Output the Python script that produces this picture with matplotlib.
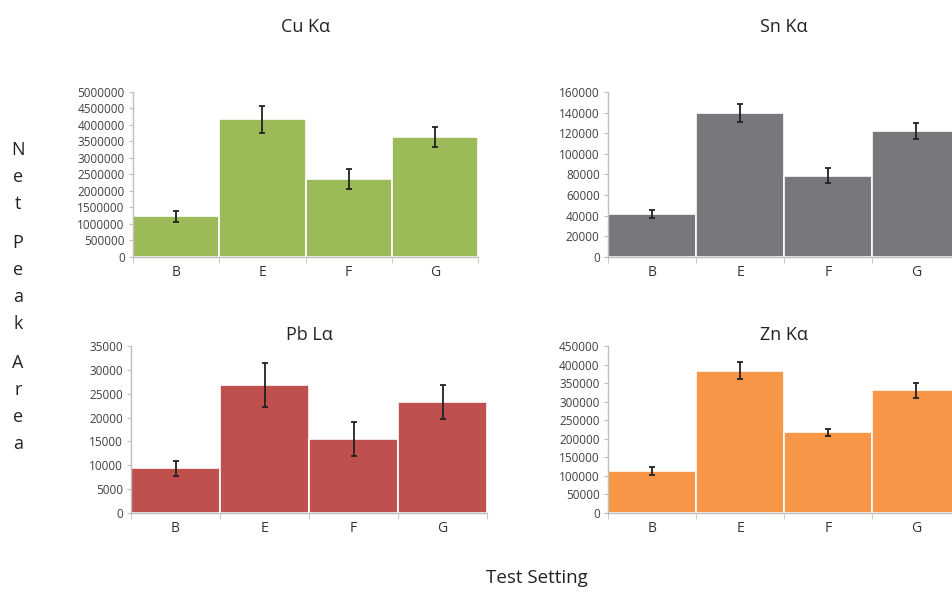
import matplotlib
matplotlib.use("Agg")
import matplotlib.pyplot as plt
from matplotlib.ticker import StrMethodFormatter
import numpy as np

plt.rcParams['font.family'] = ['Open Sans', 'DejaVu Sans']

settings = ["B", "E", "F", "G"]

cu = [1235000, 4170000, 2370000, 3640000]
cu_err = [160000, 400000, 310000, 300000]
sn = [41800, 139400, 79000, 122400]
sn_err = [4000, 8700, 7400, 7500]
pb = [9400, 26900, 15500, 23200]
pb_err = [1570, 4600, 3630, 3560]
zn = [112300, 383500, 217400, 330500]
zn_err = [10800, 22500, 9000, 19300]

panels = [
    ("Cu K\u03b1", cu, cu_err, "#9BBB59", 5000000, 500000, [0.1396, 0.5659, 0.362, 0.2787]),
    ("Sn K\u03b1", sn, sn_err, "#77787B", 160000, 20000, [0.638, 0.5659, 0.3694, 0.2787]),
    ("Pb L\u03b1", pb, pb_err, "#C0504D", 35000, 5000, [0.1375, 0.1334, 0.3736, 0.2821]),
    ("Zn K\u03b1", zn, zn_err, "#F79646", 450000, 50000, [0.638, 0.1334, 0.3694, 0.2821]),
]

fig = plt.figure(figsize=(9.53, 5.92), dpi=100)

for title, vals, errs, color, ymax, step, pos in panels:
    ax = fig.add_axes(pos)
    x = np.arange(len(settings))
    ax.bar(x, vals, width=1.0, color=color, edgecolor="white", linewidth=1.2,
           yerr=errs, capsize=2.5, error_kw=dict(ecolor="#222222", elinewidth=1.3, capthick=1.3))
    ax.set_xlim(-0.5, len(settings) - 0.5)
    ax.set_ylim(0, ymax)
    ax.set_yticks(np.arange(0, ymax + step, step))
    ax.yaxis.set_major_formatter(StrMethodFormatter("{x:.0f}"))
    ax.set_xticks(x)
    ax.set_xticklabels(settings, fontsize=10, color="#333333")
    ax.set_xticks(np.arange(-0.5, len(settings), 1.0), minor=True)
    ax.tick_params(axis="x", which="major", length=0, pad=6)
    ax.tick_params(axis="x", which="minor", length=4, color="#BFBFBF", direction="out")
    ax.tick_params(axis="y", length=3, color="#BFBFBF", labelsize=8.5, labelcolor="#404040", pad=3)
    for s in ["top", "right"]:
        ax.spines[s].set_visible(False)
    for s in ["left", "bottom"]:
        ax.spines[s].set_color("#BFBFBF")
        ax.spines[s].set_linewidth(1.0)
    ax.set_title(title, fontsize=13, color="#222222", pad=43 if pos[1] > 0.5 else 4)

# stacked vertical label
letters = "Net Peak Area"
y = 1 - 150 / 592
for ch in letters:
    if ch == " ":
        y -= 12 / 592
        continue
    fig.text(0.019, y, ch, fontsize=13, ha="center", va="center", color="#222222")
    y -= 27 / 592

fig.text(0.563, 1 - 578 / 592, "Test Setting", fontsize=13.5, ha="center", va="center", color="#222222")

fig.savefig("out.png", dpi=100)
